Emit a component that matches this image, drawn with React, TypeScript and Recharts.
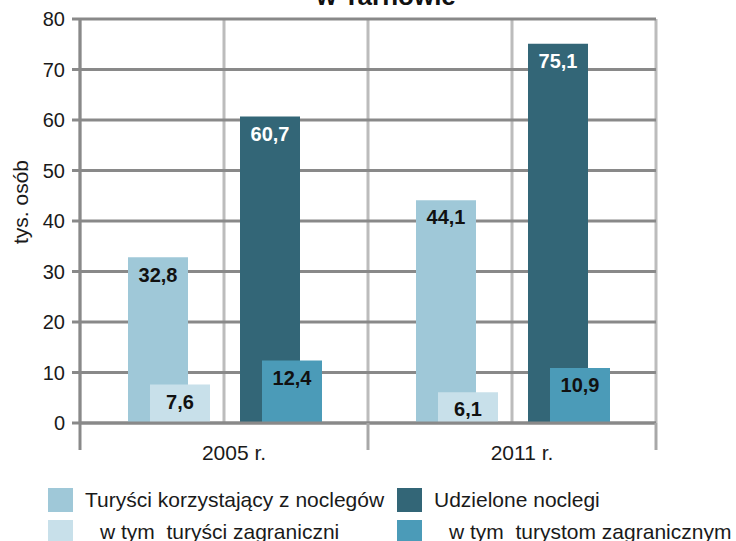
import React from "react";
import { BarChart, Bar, XAxis, YAxis, CartesianGrid, LabelList, Legend } from "recharts";

const years = ["2005 r.", "2011 r."];
const touristsTotal = [32.8, 44.1];
const touristsForeign = [7.6, 6.1];
const nightsTotal = [60.7, 75.1];
const nightsForeign = [12.4, 10.9];
const yTicks = [0, 10, 20, 30, 40, 50, 60, 70, 80];
const seriesNames = [
  "Turyści korzystający z noclegów",
  "w tym  turyści zagraniczni",
  "Udzielone noclegi",
  "w tym  turystom zagranicznym",
];

const FONT = '"Liberation Sans", Arial, sans-serif';

const data = years.map((year, i) => ({
  year,
  touristsTotal: touristsTotal[i],
  touristsForeign: touristsForeign[i],
  nightsTotal: nightsTotal[i],
  nightsForeign: nightsForeign[i],
}));

const fmt = (v: any) => Number(v).toFixed(1).replace(".", ",");

// category label plus the long tick marks on the category edges
function CatTick({ x, y, payload, index }: any) {
  const half = payload.offset || 0;
  return (
    <g>
      {index === 0 && <line x1={x - half} x2={x - half} y1={y} y2={y + 27} stroke="#898989" strokeWidth={3} />}
      <line x1={x + half} x2={x + half} y1={y} y2={y + 27} stroke="#a8a8a8" strokeWidth={3} />
      <text x={x + 10} y={y + 37} textAnchor="middle" fontSize={21} fill="#1a1a1a" fontFamily={FONT}>
        {payload.value}
      </text>
    </g>
  );
}

function YLabel({ viewBox }: any) {
  const cx = viewBox.x + 20;
  const cy = viewBox.y + viewBox.height / 2 - 19;
  return (
    <text
      x={cx}
      y={cy}
      transform={`rotate(-90 ${cx} ${cy})`}
      textAnchor="middle"
      dominantBaseline="central"
      fontSize={21}
      fill="#1a1a1a"
      fontFamily={FONT}
    >
      tys. osób
    </text>
  );
}

function LegendBox({ payload }: any) {
  const items = [...(payload || [])].sort(
    (p: any, q: any) => seriesNames.indexOf(p.value) - seriesNames.indexOf(q.value)
  );
  return (
    <div
      style={{
        display: "grid",
        gridTemplateRows: "32px 32px",
        gridTemplateColumns: "349px 340px",
        gridAutoFlow: "column",
        paddingLeft: 48,
        height: 64,
        fontFamily: FONT,
        fontSize: 21,
        color: "#1a1a1a",
      }}
    >
      {items.map((p: any, i: number) => (
        <div key={p.value} style={{ display: "flex", alignItems: "center", whiteSpace: "pre" }}>
          <span style={{ width: 25, height: 24, background: p.color, marginRight: 12 + (i % 2) * 15, flex: "none" }} />
          <span>{p.value}</span>
        </div>
      ))}
    </div>
  );
}

const labelStyle = { fontFamily: FONT, fontSize: 20, fontWeight: 700 };

export default function App() {
  return (
    <div style={{ position: "absolute", left: 0, top: 0, width: 736, height: 541, overflow: "hidden", background: "#fff" }}>
      <div
        style={{
          position: "absolute",
          left: 386,
          top: -17,
          transform: "translateX(-50%)",
          fontFamily: FONT,
          fontSize: 26,
          lineHeight: "26px",
          fontWeight: 700,
          whiteSpace: "nowrap",
          color: "#111",
        }}
      >
        w Tarnowie
      </div>
      <BarChart
        width={736}
        height={541}
        data={data}
        margin={{ top: 19, right: 80, bottom: 4, left: 0 }}
        barGap={52}
      >
        <XAxis
          xAxisId="cat"
          dataKey="year"
          interval={0}
          height={50}
          tickSize={0}
          tickMargin={0}
          tickLine={false}
          axisLine={{ stroke: "#898989", strokeWidth: 3 }}
          tick={<CatTick />}
        />
        <XAxis xAxisId="a" dataKey="year" hide height={0} padding={{ left: -10, right: 10 }} />
        <XAxis xAxisId="b" dataKey="year" hide height={0} padding={{ left: 12, right: -12 }} />
        <YAxis
          domain={[0, 80]}
          ticks={yTicks}
          interval={0}
          width={80}
          tickSize={8}
          tickMargin={7}
          axisLine={{ stroke: "#898989", strokeWidth: 3 }}
          tickLine={{ stroke: "#898989", strokeWidth: 3 }}
          tick={{ fontSize: 20, fill: "#1a1a1a", fontFamily: FONT }}
          label={YLabel}
        />
        <CartesianGrid
          xAxisId="cat"
          horizontal={false}
          stroke="#bcbcbc"
          strokeWidth={3}
          verticalCoordinatesGenerator={({ offset }: any) =>
            Array.from({ length: years.length * 2 + 1 }, (_, k) => offset.left + (offset.width * k) / (years.length * 2))
          }
        />
        <CartesianGrid xAxisId="cat" vertical={false} stroke="#898989" strokeWidth={3} />
        <Legend
          verticalAlign="bottom"
          wrapperStyle={{ left: 0, top: 484, width: 736 }}
          content={<LegendBox />}
        />
        <Bar xAxisId="a" dataKey="touristsTotal" name={seriesNames[0]} fill="#9fc8d8" barSize={60} isAnimationActive={false}>
          <LabelList dataKey="touristsTotal" position="insideTop" offset={10} formatter={fmt} fill="#111" style={labelStyle} />
        </Bar>
        <Bar xAxisId="b" dataKey="touristsForeign" name={seriesNames[1]} fill="#c8e0ea" barSize={60} isAnimationActive={false}>
          <LabelList dataKey="touristsForeign" position="insideTop" offset={10} formatter={fmt} fill="#111" style={labelStyle} />
        </Bar>
        <Bar xAxisId="a" dataKey="nightsTotal" name={seriesNames[2]} fill="#336677" barSize={60} isAnimationActive={false}>
          <LabelList dataKey="nightsTotal" position="insideTop" offset={10} formatter={fmt} fill="#fff" style={labelStyle} />
        </Bar>
        <Bar xAxisId="b" dataKey="nightsForeign" name={seriesNames[3]} fill="#4b9bb8" barSize={60} isAnimationActive={false}>
          <LabelList dataKey="nightsForeign" position="insideTop" offset={10} formatter={fmt} fill="#111" style={labelStyle} />
        </Bar>
      </BarChart>
    </div>
  );
}
